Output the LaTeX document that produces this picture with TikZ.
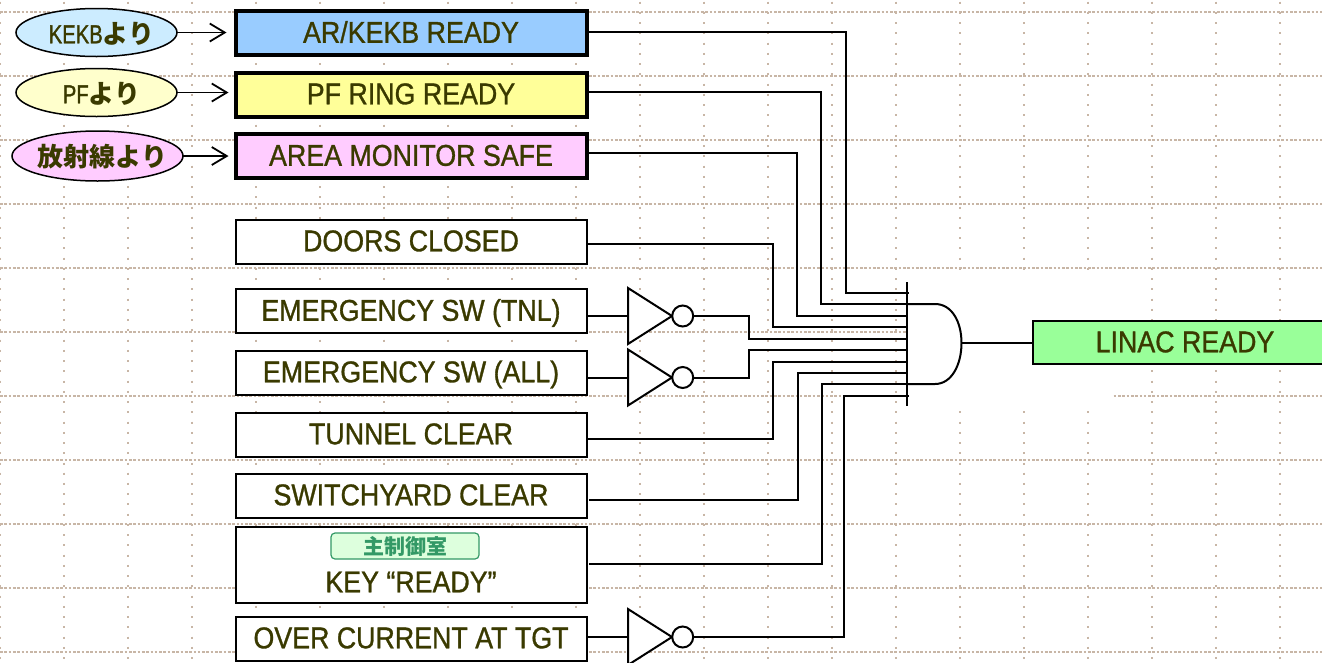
\documentclass[tikz,border=0pt]{standalone}
\usepackage{fontspec}
\setmainfont[FakeStretch=0.893,FakeBold=1]{Liberation Sans}
\newfontfamily\jpfont{Noto Sans CJK JP}
\newfontfamily\narrowfont[FakeStretch=0.78,FakeBold=1.2]{Liberation Sans}
\usetikzlibrary{arrows.meta,shapes.geometric}
\definecolor{gridtan}{HTML}{C8B6A6}
\definecolor{labeltext}{HTML}{3A3A00}
\definecolor{tagtext}{HTML}{339966}
\definecolor{tagfill}{HTML}{DDFFDD}
\definecolor{kekbfill}{HTML}{CCECFF}
\definecolor{pffill}{HTML}{FFFFCC}
\definecolor{radfill}{HTML}{FFCCFF}
\newcommand{\labelfont}{\fontsize{30}{36}\selectfont}
\newcommand{\srcfont}{\fontsize{26}{30}\selectfont}
\newcommand{\kana}[1]{{\jpfont\bfseries #1}}
\newcommand{\ovaltext}[1]{\makebox[0pt]{\hspace{10pt}#1}}
\tikzset{
  hgrid/.style={gridtan,line width=1.4pt,dash pattern=on 2.6pt off 1.7pt},
  vgrid/.style={gridtan,line width=2pt,dash pattern=on 2pt off 8.24pt},
  plainbox/.style={draw,line width=2pt,fill=white,text=labeltext,inner sep=0pt,outer sep=0pt,
    minimum width=351pt,minimum height=44pt,text height=21.5pt,text depth=2pt,font=\labelfont},
  thickbox/.style={plainbox,line width=4pt},
  srcoval/.style={ellipse,draw,line width=1.5pt,inner sep=0pt,outer sep=0pt,text=labeltext,
    minimum width=161pt,minimum height=48pt,text height=21.5pt,text depth=0pt,font=\srcfont},
  feed/.style={line width=1.8pt,-{Straight Barb[length=15pt,width=18pt,line width=1.8pt]}},
  wire/.style={line width=2pt},
  bubble/.style={circle,draw,line width=2pt,fill=white,inner sep=0pt,outer sep=0pt,minimum size=21pt},
}
\begin{document}
\begin{tikzpicture}[x=1pt,y=-1pt]
  \useasboundingbox (0,0) rectangle (1322,662);
  \clip (0,0) rectangle (1322,662);
  \fill[white] (0,0) rectangle (1322,662);
  %% dotted sheet grid
  \foreach \y in {12,76,...,652} \draw[hgrid] (0,\y) -- (1322,\y);
  \foreach \x in {0,64,...,1280} \draw[vgrid] (\x,1.7) -- (\x,662);
  \fill[white] (906,270) rectangle (1113,411);
  %%
  \node[srcoval,fill=kekbfill] (kekb) at (96.5,32.5) {\ovaltext{\narrowfont KEKB\kana{より}}};
  \node[srcoval,fill=pffill] (pf) at (96.5,92.5) {\ovaltext{\narrowfont PF\kana{より}}};
  \node[srcoval,fill=radfill,minimum width=171pt,minimum height=50pt] (rad) at (97.5,156) {\ovaltext{\kana{放射線より}}};
  %%
  \node[thickbox,fill={rgb,255:red,153;green,204;blue,255}] (arkekb) at (411,33) {AR/KEKB READY};
  \node[thickbox,fill={rgb,255:red,255;green,255;blue,153}] (pfring) at (411,94.5) {PF RING READY};
  \node[thickbox,fill={rgb,255:red,255;green,204;blue,255}] (area) at (411,156) {AREA MONITOR SAFE};
  \node[plainbox] (doors) at (411,241.5) {DOORS CLOSED};
  \node[plainbox] (emtnl) at (411,311) {EMERGENCY SW (TNL)};
  \node[plainbox] (emall) at (411,372.5) {EMERGENCY SW (ALL)};
  \node[plainbox] (tunnel) at (411,434.5) {TUNNEL CLEAR};
  \node[plainbox] (swyard) at (411,495.5) {SWITCHYARD CLEAR};
  \node[plainbox,minimum height=76pt] (key) at (411,565) {};
  \node[text=labeltext,font=\labelfont,inner sep=0pt] (keytext) at (411,582) {KEY “READY”};
  \node[draw=tagtext,fill=tagfill,rounded corners=4pt,line width=1.2pt,text=tagtext,
    minimum width=148pt,minimum height=26pt,inner sep=0pt,font=\fontsize{21}{24}\selectfont] (tag) at (405,546) {\kana{主制御室}};
  \node[plainbox] (overcur) at (411,638.5) {OVER CURRENT AT TGT};
  \node[plainbox,fill={rgb,255:red,153;green,255;blue,153},minimum width=304pt,minimum height=43pt] (linac) at (1185,342.5) {LINAC READY};
  %%
  \draw[feed,shorten >=9pt] (kekb.east) -- (arkekb.west|-kekb.east);
  \draw[feed,shorten >=7pt] (pf.east) -- (pfring.west|-pf.east);
  \draw[feed,shorten >=7pt] (rad.east) -- (area.west|-rad.east);
  %% inverters
  \foreach \y/\n in {316/a,377.5/b,637/c}{
    \draw[wire,fill=white] (628,\y-28) coordinate (inv\n) -- (672,\y) -- (628,\y+28) -- cycle;
    \node[bubble] (not\n) at (682.7,\y) {};
  }
  \draw[wire] (emtnl.east|-0,316) -- (628,316);
  \draw[wire] (emall.east|-0,377.5) -- (628,377.5);
  \draw[wire] (overcur.east|-0,637) -- (628,637);
  %% gate
  \draw[wire] (906.5,282) -- (906.5,406);
  \draw[wire] (906.5,304) -- (935,304) .. controls (952,304) and (961.5,322) .. (961.5,343)
    coordinate (gateout) .. controls (961.5,364) and (952,384) .. (935,384) -- (906.5,384);
  \draw[wire] (gateout) -- (linac.west|-gateout);
  %% wires into the gate
  \draw[wire] (arkekb.east|-0,32) -- (846,32) -- (846,292.5) -- (909,292.5);
  \draw[wire] (pfring.east|-0,92) -- (821,92) -- (821,304) -- (906.5,304);
  \draw[wire] (area.east|-0,153) -- (797,153) -- (797,316) -- (906.5,316);
  \draw[wire] (doors.east|-0,244) -- (773,244) -- (773,327) -- (906.5,327);
  \draw[wire] (nota.east) -- (749,316) -- (749,338.5) -- (906.5,338.5);
  \draw[wire] (notb.east) -- (749,377.5) -- (749,350) -- (906.5,350);
  \draw[wire] (tunnel.east|-0,439) -- (773,439) -- (773,361.5) -- (906.5,361.5);
  \draw[wire] (589,500) -- (797.5,500) -- (797.5,372.5) -- (906.5,372.5);
  \draw[wire] (589,563.7) -- (822,563.7) -- (822,384) -- (906.5,384);
  \draw[wire] (notc.east) -- (843.7,637) -- (843.7,396) -- (909,396);
\end{tikzpicture}
\end{document}
